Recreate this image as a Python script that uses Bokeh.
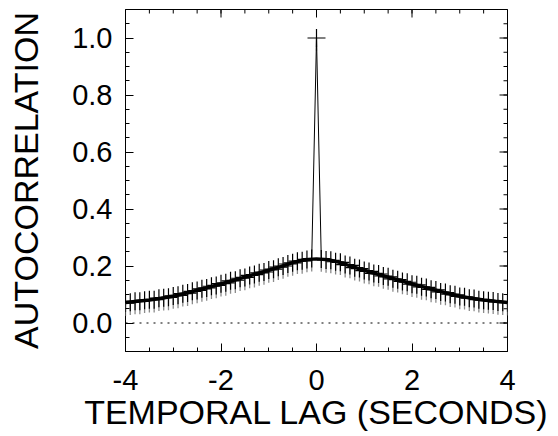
import numpy as np
from bokeh.plotting import figure
from bokeh.models import LinearAxis, Range1d, FixedTicker, Span
from bokeh.embed import file_html
from bokeh.resources import INLINE

# temporal lag grid (seconds)
lag = np.round(np.arange(-40, 41) * 0.1, 1)

acf_left = [0.070, 0.073, 0.076, 0.076, 0.080, 0.082, 0.082, 0.087, 0.089, 0.090,
            0.095, 0.097, 0.103, 0.105, 0.111, 0.114, 0.120, 0.123, 0.129, 0.132,
            0.138, 0.141, 0.148, 0.150, 0.157, 0.160, 0.167, 0.170, 0.176, 0.179,
            0.186, 0.189, 0.196, 0.200, 0.207, 0.211, 0.217, 0.218, 0.223, 0.226]
acf_peak = [1.0]
acf_right = [0.225, 0.221, 0.220, 0.215, 0.213, 0.205, 0.202, 0.194, 0.191, 0.184,
             0.181, 0.174, 0.172, 0.165, 0.162, 0.155, 0.152, 0.146, 0.143, 0.136,
             0.134, 0.127, 0.125, 0.118, 0.116, 0.109, 0.107, 0.101, 0.099, 0.093,
             0.092, 0.087, 0.086, 0.082, 0.080, 0.078, 0.077, 0.074, 0.073, 0.071]
acf = np.array(acf_left + acf_peak + acf_right)

model_lag = [-4.0, -3.75, -3.5, -3.25, -3.0, -2.75, -2.5, -2.25, -2.0, -1.75, -1.5, -1.25,
             -1.0, -0.75, -0.5, -0.25, 0.0, 0.25, 0.5, 0.75, 1.0, 1.25, 1.5, 1.75, 2.0,
             2.25, 2.5, 2.75, 3.0, 3.25, 3.5, 3.75, 4.0]
model_acf = [0.072, 0.076, 0.081, 0.087, 0.094, 0.104, 0.115, 0.126, 0.137, 0.149, 0.161, 0.173,
             0.185, 0.198, 0.212, 0.222, 0.225, 0.222, 0.212, 0.198, 0.185, 0.173, 0.161, 0.149,
             0.137, 0.126, 0.115, 0.104, 0.094, 0.087, 0.081, 0.076, 0.072]

x_ticks = [-4, -2, 0, 2, 4]
x_tick_labels = ["-4", "-2", "0", "2", "4"]
x_minor = [-4, -3.5, -3, -2.5, -2, -1.5, -1, -0.5, 0, 0.5, 1, 1.5, 2, 2.5, 3, 3.5, 4]
y_ticks = [0.0, 0.2, 0.4, 0.6, 0.8, 1.0]
y_tick_labels = ["0.0", "0.2", "0.4", "0.6", "0.8", "1.0"]
y_minor = [-0.1, -0.05, 0.0, 0.05, 0.1, 0.15, 0.2, 0.25, 0.3, 0.35, 0.4, 0.45, 0.5,
           0.55, 0.6, 0.65, 0.7, 0.75, 0.8, 0.85, 0.9, 0.95, 1.0, 1.05, 1.1]

X_TITLE = "TEMPORAL LAG (SECONDS)"
Y_TITLE = "AUTOCORRELATION"

FONT = "Liberation Sans"
xr = Range1d(-4, 4)
yr = Range1d(-0.1, 1.1)

p = figure(frame_width=382, frame_height=342, output_backend="svg", toolbar_location=None,
           x_range=xr, y_range=yr, x_axis_location=None, y_axis_location=None)
p.min_border_left = 125
p.min_border_right = 51
p.min_border_top = 9
p.min_border_bottom = 85
p.grid.visible = False
p.outline_line_color = "black"
p.outline_line_width = 1
p.background_fill_color = "white"
p.border_fill_color = "white"


def style_axis(ax):
    ax.major_tick_in = 8
    ax.major_tick_out = 0
    ax.minor_tick_in = 4
    ax.minor_tick_out = 0
    ax.major_tick_line_color = "black"
    ax.minor_tick_line_color = "black"
    ax.axis_line_color = None
    ax.major_label_text_font = FONT
    ax.major_label_text_font_size = "29px"
    ax.major_label_text_color = "black"
    ax.axis_label_text_font = FONT
    ax.axis_label_text_font_size = "34px"
    ax.axis_label_text_font_style = "normal"
    ax.axis_label_text_color = "black"


xb = LinearAxis(axis_label=X_TITLE)
style_axis(xb)
xb.ticker = FixedTicker(ticks=x_ticks, minor_ticks=x_minor)
xb.major_label_overrides = dict(zip(x_ticks, x_tick_labels))
xb.major_label_standoff = 18
xb.axis_label_standoff = 0
p.add_layout(xb, "below")

yl = LinearAxis(axis_label=Y_TITLE)
style_axis(yl)
yl.ticker = FixedTicker(ticks=y_ticks, minor_ticks=y_minor)
yl.major_label_overrides = dict(zip(y_ticks, y_tick_labels))
yl.major_label_standoff = 13
yl.axis_label_standoff = 24
p.add_layout(yl, "left")

# mirrored inward ticks on the top and right frame edges (clipped to the frame)
p.scatter(x_ticks, [yr.end] * len(x_ticks), marker="dash", angle=np.pi / 2, size=16,
          line_color="black", line_width=1)
p.scatter(x_minor, [yr.end] * len(x_minor), marker="dash", angle=np.pi / 2, size=8,
          line_color="black", line_width=1)
p.scatter([xr.end] * len(y_ticks), y_ticks, marker="dash", size=16,
          line_color="black", line_width=1)
p.scatter([xr.end] * len(y_minor), y_minor, marker="dash", size=8,
          line_color="black", line_width=1)

p.add_layout(Span(location=0, dimension="width", line_color="black",
                  line_width=1, line_dash="2 5"))

# gray lower parts of the error marks
p.segment(x0=lag, y0=acf - 0.045, x1=lag, y1=acf, line_color="#8a8a8a", line_width=1.3)
# data line and plus markers
p.line(lag, acf, line_color="black", line_width=1)
p.scatter(lag, acf, marker="cross", size=18, line_color="black", line_width=1.2)
# model curve
p.line(model_lag, model_acf, line_color="black", line_width=3.5)

open("out.html", "w").write(file_html(p, INLINE))
